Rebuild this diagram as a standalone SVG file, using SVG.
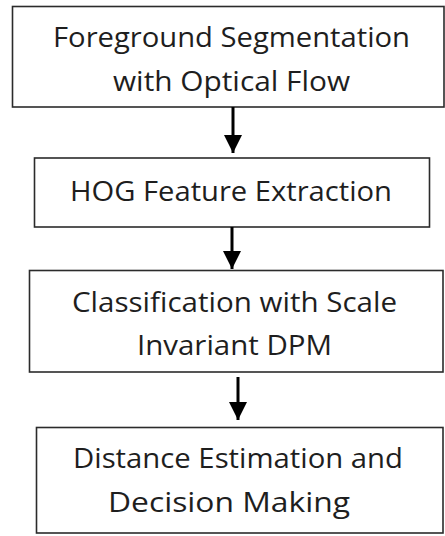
<svg xmlns="http://www.w3.org/2000/svg" width="445" height="536" viewBox="0 0 445 536">
  <defs>
    <style>
      .box { fill: #ffffff; stroke: #2b2b2b; stroke-width: 1.6; }
      .label { font-family: "Open Sans", "Noto Sans", "Liberation Sans", sans-serif; font-size: 28px; fill: #1e1e1e; }
      .link { stroke: #000000; stroke-width: 3; fill: none; }
    </style>
    <marker id="head" markerUnits="userSpaceOnUse" markerWidth="18" markerHeight="19" refX="18" refY="9" orient="auto">
      <path d="M0,0 L18,9 L0,18 Z" fill="#000000"/>
    </marker>
  </defs>

  <rect width="445" height="536" fill="#ffffff"/>

  <!-- process steps -->
  <g id="step-segmentation">
    <rect class="box" x="12.5" y="6.5" width="431.5" height="100.5"/>
    <text class="label" x="53" y="47" textLength="357" lengthAdjust="spacingAndGlyphs">Foreground Segmentation</text>
    <text class="label" x="113" y="91" textLength="237" lengthAdjust="spacingAndGlyphs">with Optical Flow</text>
  </g>

  <g id="step-hog">
    <rect class="box" x="34.5" y="158" width="395" height="69"/>
    <text class="label" x="70" y="200.5" textLength="322" lengthAdjust="spacingAndGlyphs">HOG Feature Extraction</text>
  </g>

  <g id="step-classification">
    <rect class="box" x="29.5" y="270.5" width="413.5" height="101.5"/>
    <text class="label" x="72" y="311.5" textLength="325" lengthAdjust="spacingAndGlyphs">Classification with Scale</text>
    <text class="label" x="137" y="355" textLength="195" lengthAdjust="spacingAndGlyphs">Invariant DPM</text>
  </g>

  <g id="step-decision">
    <rect class="box" x="36.5" y="427.5" width="406.5" height="105.5"/>
    <text class="label" x="73" y="468" textLength="330" lengthAdjust="spacingAndGlyphs">Distance Estimation and</text>
    <text class="label" x="108" y="512" textLength="242" lengthAdjust="spacingAndGlyphs">Decision Making</text>
  </g>

  <!-- connectors between steps -->
  <g id="connectors">
    <line class="link" x1="233" y1="107" x2="233" y2="153" marker-end="url(#head)"/>
    <line class="link" x1="232" y1="227" x2="232" y2="269" marker-end="url(#head)"/>
    <line class="link" x1="238" y1="377" x2="238" y2="420" marker-end="url(#head)"/>
  </g>
</svg>
